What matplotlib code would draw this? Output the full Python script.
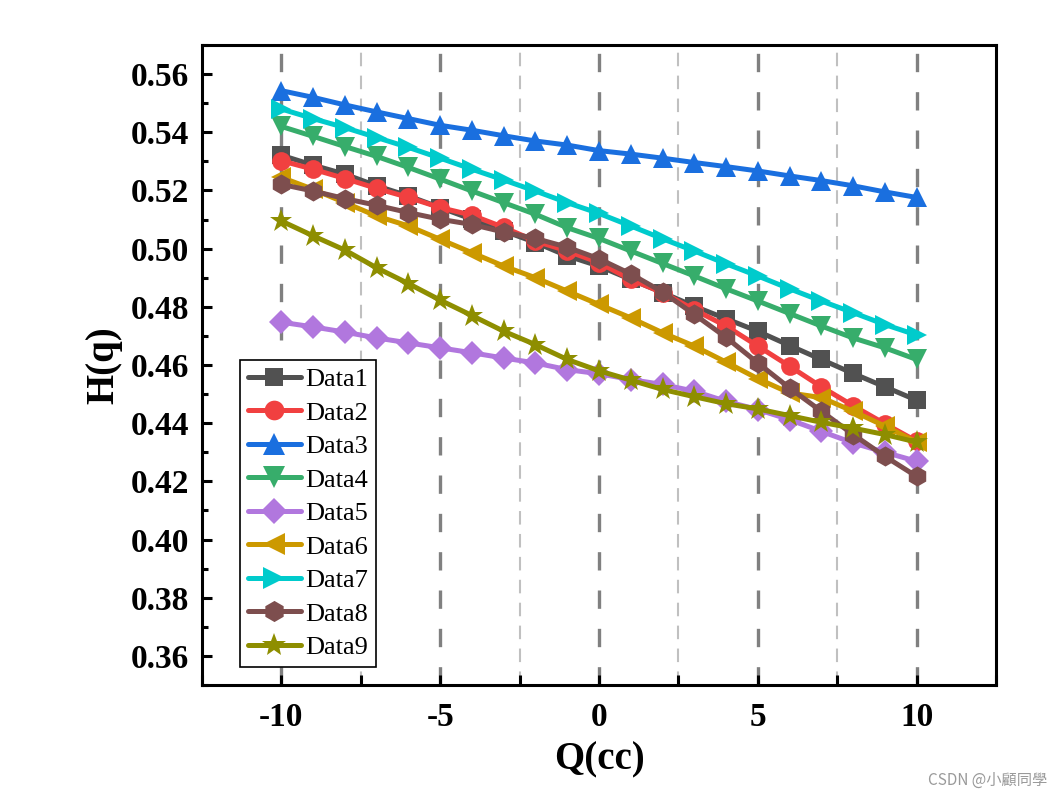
import matplotlib
matplotlib.use("Agg")
import matplotlib.pyplot as plt
from matplotlib.ticker import MultipleLocator

q = list(range(-10, 11))

data1 = [0.5321, 0.5287, 0.5256, 0.5216, 0.5181, 0.5141, 0.5101, 0.5061, 0.5021, 0.4975, 0.4940,
         0.4894, 0.4849, 0.4802, 0.4759, 0.4716, 0.4667, 0.4619, 0.4571, 0.4525, 0.4479]
data2 = [0.5302, 0.5273, 0.5241, 0.5207, 0.5176, 0.5141, 0.5115, 0.5073, 0.5026, 0.4992, 0.4952,
         0.4894, 0.4849, 0.4790, 0.4734, 0.4665, 0.4596, 0.4525, 0.4460, 0.4398, 0.4338]
data3 = [0.5543, 0.5520, 0.5494, 0.5470, 0.5447, 0.5424, 0.5407, 0.5388, 0.5370, 0.5356, 0.5337,
         0.5325, 0.5311, 0.5296, 0.5282, 0.5267, 0.5250, 0.5234, 0.5216, 0.5195, 0.5176]
data4 = [0.5420, 0.5386, 0.5351, 0.5317, 0.5279, 0.5239, 0.5198, 0.5158, 0.5118, 0.5072, 0.5035,
         0.4992, 0.4949, 0.4906, 0.4862, 0.4820, 0.4777, 0.4734, 0.4693, 0.4659, 0.4619]
data5 = [0.4747, 0.4731, 0.4713, 0.4693, 0.4676, 0.4659, 0.4642, 0.4624, 0.4607, 0.4584, 0.4570,
         0.4550, 0.4533, 0.4510, 0.4475, 0.4447, 0.4412, 0.4372, 0.4332, 0.4300, 0.4269]
data6 = [0.5245, 0.5204, 0.5158, 0.5112, 0.5078, 0.5032, 0.4986, 0.4940, 0.4900, 0.4854, 0.4808,
         0.4762, 0.4711, 0.4665, 0.4610, 0.4553, 0.4504, 0.4488, 0.4441, 0.4390, 0.4335]
data7 = [0.5480, 0.5447, 0.5416, 0.5382, 0.5348, 0.5311, 0.5273, 0.5236, 0.5198, 0.5158, 0.5121,
         0.5078, 0.5034, 0.4992, 0.4948, 0.4906, 0.4862, 0.4820, 0.4780, 0.4739, 0.4703]
data8 = [0.5221, 0.5198, 0.5172, 0.5149, 0.5124, 0.5101, 0.5083, 0.5057, 0.5035, 0.5005, 0.4965,
         0.4913, 0.4851, 0.4774, 0.4695, 0.4607, 0.4521, 0.4441, 0.4361, 0.4286, 0.4217]
data9 = [0.5095, 0.5044, 0.4995, 0.4934, 0.4880, 0.4823, 0.4770, 0.4716, 0.4670, 0.4619, 0.4580,
         0.4548, 0.4516, 0.4491, 0.4467, 0.4449, 0.4426, 0.4403, 0.4383, 0.4361, 0.4335]

labels = ["Data1", "Data2", "Data3", "Data4", "Data5", "Data6", "Data7", "Data8", "Data9"]
series = [data1, data2, data3, data4, data5, data6, data7, data8, data9]
colors = ["#515151", "#F14040", "#1A6FDF", "#37AD6B", "#B177DE", "#CC9900", "#00CBCC", "#7D4E4E", "#8E8E00"]
markers = ["s", "o", "^", "v", "D", "<", ">", "h", "*"]
msizes = [12.5, 13.5, 14.5, 14.5, 12.5, 14.5, 14.5, 14.5, 17]

yticks = [0.36, 0.38, 0.40, 0.42, 0.44, 0.46, 0.48, 0.50, 0.52, 0.54, 0.56]
xticks = [-10, -5, 0, 5, 10]

plt.rcParams['font.family'] = ['Liberation Serif', 'DejaVu Serif']
plt.rcParams['axes.unicode_minus'] = False

fig = plt.figure(figsize=(10.63, 7.98), dpi=100)
ax = fig.add_axes([0.190, 0.1416, 0.747, 0.802])

for xv in xticks:
    ax.axvline(xv, color="#808080", lw=2.4, dashes=(5.5, 6.0), zorder=0)
for xv in [-7.5, -2.5, 2.5, 7.5]:
    ax.axvline(xv, color="#C0C0C0", lw=1.5, dashes=(6.5, 4.5), zorder=0)

for y, lab, c, m, ms in zip(series, labels, colors, markers, msizes):
    ax.plot(q, y, color=c, marker=m, markersize=ms, lw=3.6, label=lab,
            markeredgewidth=0, solid_capstyle='round')

ax.set_xlim(-12.5, 12.5)
ax.set_ylim(0.35, 0.57)
ax.set_xticks(xticks)
ax.set_xticklabels([str(v) for v in xticks])
ax.xaxis.set_minor_locator(MultipleLocator(2.5))
ax.set_yticks(yticks)
ax.set_yticklabels([f"{v:.2f}" for v in yticks])
ax.yaxis.set_minor_locator(MultipleLocator(0.01))
ax.tick_params(axis='both', which='major', direction='in', length=7, width=2.2,
               labelsize=24, pad=9)
ax.tick_params(axis='x', which='major', pad=12)
ax.tick_params(axis='both', which='minor', direction='in', length=4, width=2.2)
ax.tick_params(axis='x', which='minor', length=7)
for lbl in ax.get_xticklabels() + ax.get_yticklabels():
    lbl.set_fontweight('bold')
for s in ax.spines.values():
    s.set_linewidth(2.2)

ax.set_xlabel("Q(cc)", fontsize=28, fontweight='bold', labelpad=6)
ax.set_ylabel("H(q)", fontsize=28, fontweight='bold', labelpad=6)

leg = ax.legend(loc='lower left', bbox_to_anchor=(0.048, 0.028), fontsize=19,
                frameon=True, fancybox=False, edgecolor='black', framealpha=1,
                handlelength=2.0, handletextpad=0.15, labelspacing=0.38,
                borderpad=0.3, borderaxespad=0, markerscale=1.05)
leg.get_frame().set_linewidth(1.2)

fig.text(0.985, 0.012, "CSDN @小顧同學", ha='right', va='bottom', fontsize=11,
         color="#9a9a9a", family=['Noto Sans CJK TC', 'DejaVu Sans'])

fig.savefig("out.png", dpi=100)
